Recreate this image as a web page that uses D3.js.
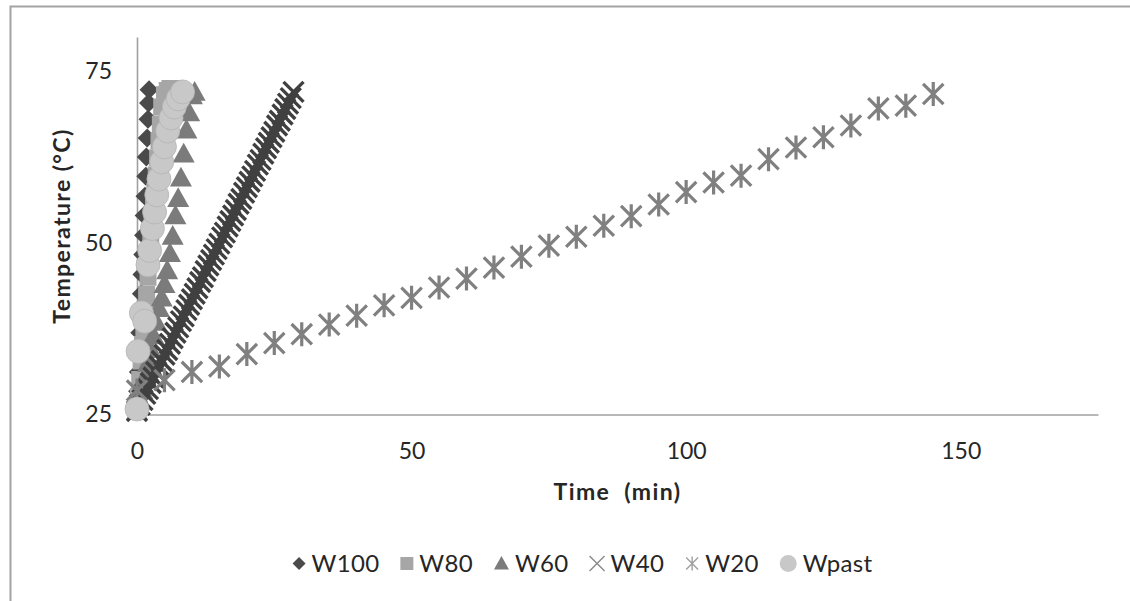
<!DOCTYPE html>
<html>
<head>
<meta charset="utf-8">
<script src="https://cdn.jsdelivr.net/npm/d3@7"></script>
<style>
  body { margin: 0; background: #fff; }
  svg text { font-family: Lato, "Open Sans", sans-serif; fill: #262626; }
</style>
</head>
<body>
<div id="chart"></div>
<script>
const width = 1130, height = 601;
const plotLeft = 137, plotRight = 1098, plotTop = 37, plotBottom = 414.5;

// series (time in min, temperature in °C)
const seriesNames = ['W100', 'W80', 'W60', 'W40', 'W20', 'Wpast'];

const w100Time = [0, 0.1, 0.25, 0.4, 0.5, 0.65, 0.8, 0.9, 1.05, 1.2, 1.3, 1.45, 1.6, 1.7, 1.85, 2.0, 2.1, 2.2];
const w100Temp = [25.6, 28.4, 31.2, 34.0, 36.9, 39.7, 42.6, 45.4, 48.3, 51.1, 54.0, 56.8, 59.7, 62.5, 65.3, 68.0, 70.4, 72.3];

const w80Time = [0, 0.25, 0.5, 0.75, 1, 1.25, 1.5, 1.75, 2, 2.25, 2.5, 2.75, 3, 3.25, 3.5, 3.75, 4, 4.25, 4.5, 5, 5.5, 6, 6.5];
const w80Temp = [25.5, 27.6, 30.1, 32.8, 35.2, 37.6, 40.1, 42.5, 45.0, 47.6, 50.0, 52.6, 55.1, 57.5, 59.9, 62.4, 64.9, 67.3, 69.8, 71.6, 72.2, 72.5, 72.5];

const w60Time = [0, 0.5, 1, 1.5, 2, 2.5, 3, 3.5, 4, 4.5, 5, 5.5, 6, 6.5, 7, 7.5, 8, 8.5, 9, 9.5, 10, 10.5];
const w60Temp = [25.5, 27.0, 28.5, 30.5, 32.5, 34.5, 36.5, 38.5, 40.5, 42.0, 44.0, 46.0, 48.5, 51.0, 54.0, 56.5, 59.5, 63.0, 66.5, 69.0, 71.5, 72.0];

const w40Time = [0, 0.5, 1, 1.5, 2, 2.5, 3, 3.5, 4, 4.5, 5, 5.5, 6, 6.5, 7, 7.5, 8, 8.5, 9, 9.5,
                 10, 10.5, 11, 11.5, 12, 12.5, 13, 13.5, 14, 14.5, 15, 15.5, 16, 16.5, 17, 17.5, 18, 18.5, 19, 19.5,
                 20, 20.5, 21, 21.5, 22, 22.5, 23, 23.5, 24, 24.5, 25, 25.5, 26, 26.5, 27, 27.5, 28, 28.5];
const w40Temp = [25.5, 26.4, 27.1, 28.0, 28.7, 29.6, 30.4, 31.2, 32.1, 32.8, 33.7, 34.4, 35.3, 36.1, 36.9, 37.7, 38.6, 39.3, 40.2, 41.0,
                 41.8, 42.6, 43.4, 44.3, 45.0, 45.9, 46.7, 47.5, 48.3, 49.1, 49.9, 50.8, 51.5, 52.4, 53.2, 54.0, 54.8, 55.7, 56.4, 57.3,
                 58.1, 58.9, 59.7, 60.5, 61.4, 62.1, 63.0, 63.8, 64.6, 65.4, 66.2, 67.1, 67.8, 68.7, 69.5, 70.3, 71.1, 72.0];

const w20Time = [0, 5, 10, 15, 20, 25, 30, 35, 40, 45, 50, 55, 60, 65, 70, 75, 80, 85, 90, 95,
                 100, 105, 110, 115, 120, 125, 130, 135, 140, 145];
const w20Temp = [28.5, 30.0, 31.2, 32.0, 33.8, 35.4, 36.7, 38.1, 39.4, 40.9, 42.0, 43.5, 44.8, 46.4, 48.0, 49.6, 50.9, 52.5, 53.9, 55.6,
                 57.4, 58.8, 59.8, 62.2, 63.9, 65.4, 67.1, 69.6, 70.0, 71.7];

const wpastTime = [0, 0.2, 0.8, 1.4, 2.0, 2.3, 2.8, 3.2, 3.6, 4.0, 4.5, 5.0, 5.6, 6.2, 6.8, 7.5, 8.3];
const wpastTemp = [25.8, 34.2, 39.8, 38.6, 46.8, 48.9, 52.1, 54.5, 57.0, 59.3, 61.8, 64.0, 66.3, 68.2, 69.8, 71.0, 72.0];

const xTicks = [0, 50, 100, 150];
const yTicks = [25, 50, 75];

const times = [w100Time, w80Time, w60Time, w40Time, w20Time, wpastTime];
const temps = [w100Temp, w80Temp, w60Temp, w40Temp, w20Temp, wpastTemp];

// marker look per series (legend draws the line markers thinner and lighter)
const styles = [
    {shape: 'diamond', r: 9.5, fill: '#4a4a4a'},
    {shape: 'square', r: 8.5, fill: '#a6a6a6'},
    {shape: 'triangle', r: 11, fill: '#7b7b7b'},
    {shape: 'times', r: 10, stroke: '#404040', sw: 3.4, legendStroke: '#8a8a8a'},
    {shape: 'star', r: 12, stroke: '#808080', sw: 3.2, legendStroke: '#a0a0a0'},
    {shape: 'circle', r: 12, fill: '#c8c8c8', stroke: '#b4b4b4', sw: 0.8}
];

function markerPath(shape, r) {
    switch (shape) {
        case 'diamond': return `M0,${-r}L${r},0L0,${r}L${-r},0Z`;
        case 'square': return `M${-r},${-r}H${r}V${r}H${-r}Z`;
        case 'triangle': return `M0,${-r}L${r},${r * 0.8}L${-r},${r * 0.8}Z`;
        case 'times': return `M${-r},${-r}L${r},${r}M${-r},${r}L${r},${-r}`;
        case 'star': {
            let d = r * 0.85;
            return `M0,${-r}V${r}M${-d},${-d}L${d},${d}M${-d},${d}L${d},${-d}`;
        }
        case 'circle': return `M${r},0A${r},${r} 0 1 1 ${-r},0A${r},${r} 0 1 1 ${r},0Z`;
    }
}

function styleMarker(sel, st, legend) {
    let filled = st.fill !== undefined;
    if (filled) {
        sel.attr('fill', st.fill)
           .attr('stroke', legend ? 'none' : (st.stroke || 'none'))
           .attr('stroke-width', st.sw || 0);
    } else {
        sel.attr('fill', 'none')
           .attr('stroke', legend ? st.legendStroke : st.stroke)
           .attr('stroke-width', legend ? 1.4 : st.sw);
    }
}

const svg = d3.select('#chart').append('svg')
    .attr('width', width)
    .attr('height', height);

// chart frame, cut off at right and bottom
svg.append('rect')
    .attr('x', 10.5).attr('y', 6.5)
    .attr('width', 1300).attr('height', 800)
    .attr('fill', 'none')
    .attr('stroke', '#a3a3a3')
    .attr('stroke-width', 2);

const x = d3.scaleLinear().domain([0, 175]).range([plotLeft, plotRight]);
const y = d3.scaleLinear().domain([25, 80]).range([plotBottom, plotTop]);

let xAxis = svg.append('g')
    .attr('transform', `translate(0,${plotBottom})`)
    .call(d3.axisBottom(x).tickValues(xTicks).tickSize(0).tickSizeOuter(0).tickPadding(28));
let yAxis = svg.append('g')
    .attr('transform', `translate(${plotLeft},0)`)
    .call(d3.axisLeft(y).tickValues(yTicks).tickSize(0).tickSizeOuter(0).tickPadding(25));

[xAxis, yAxis].forEach(g => {
    g.attr('font-family', null).attr('font-size', 23);
    g.select('.domain').attr('stroke', '#a0a0a0').attr('stroke-width', 1.6);
    g.selectAll('text').attr('fill', '#262626');
});

// series, drawn in legend order so Wpast ends on top
seriesNames.forEach((name, i) => {
    let st = styles[i];
    let pts = times[i].map((t, j) => ({t: t, v: temps[i][j]}));
    svg.append('g').attr('class', 'series ' + name)
        .selectAll('path')
        .data(pts)
        .join('path')
        .attr('d', markerPath(st.shape, st.r))
        .attr('transform', d => `translate(${x(d.t)},${y(d.v)})`)
        .call(styleMarker, st, false);
});

// axis titles
svg.append('text')
    .attr('x', (plotLeft + plotRight) / 2)
    .attr('y', 500)
    .attr('text-anchor', 'middle')
    .attr('font-size', 23)
    .attr('font-weight', 'bold')
    .attr('letter-spacing', 1.4)
    .style('white-space', 'pre')
    .text('Time  (min)');

svg.append('text')
    .attr('transform', 'translate(70,226) rotate(-90)')
    .attr('text-anchor', 'middle')
    .attr('font-size', 23)
    .attr('font-weight', 'bold')
    .attr('letter-spacing', 1.4)
    .text('Temperature (°C)');

// legend
const legendSizes = [6.5, 6.5, 7.5, 7.5, 7, 8.5];
let legend = svg.append('g').attr('class', 'legend');
let lx = 0;
seriesNames.forEach((name, i) => {
    let st = styles[i];
    let g = legend.append('g').attr('transform', `translate(${lx},0)`);
    let r = legendSizes[i];
    g.append('path')
        .attr('d', markerPath(st.shape, r))
        .attr('transform', `translate(${r},-8.5)`)
        .call(styleMarker, st, true);
    let t = g.append('text')
        .attr('x', 2 * r + 6)
        .attr('font-size', 24)
        .attr('letter-spacing', 0.3)
        .text(name);
    lx += 2 * r + 6 + t.node().getComputedTextLength() + 21;
});
let legendWidth = lx - 21;
legend.attr('transform', `translate(${582.5 - legendWidth / 2},572)`);
</script>
</body>
</html>
